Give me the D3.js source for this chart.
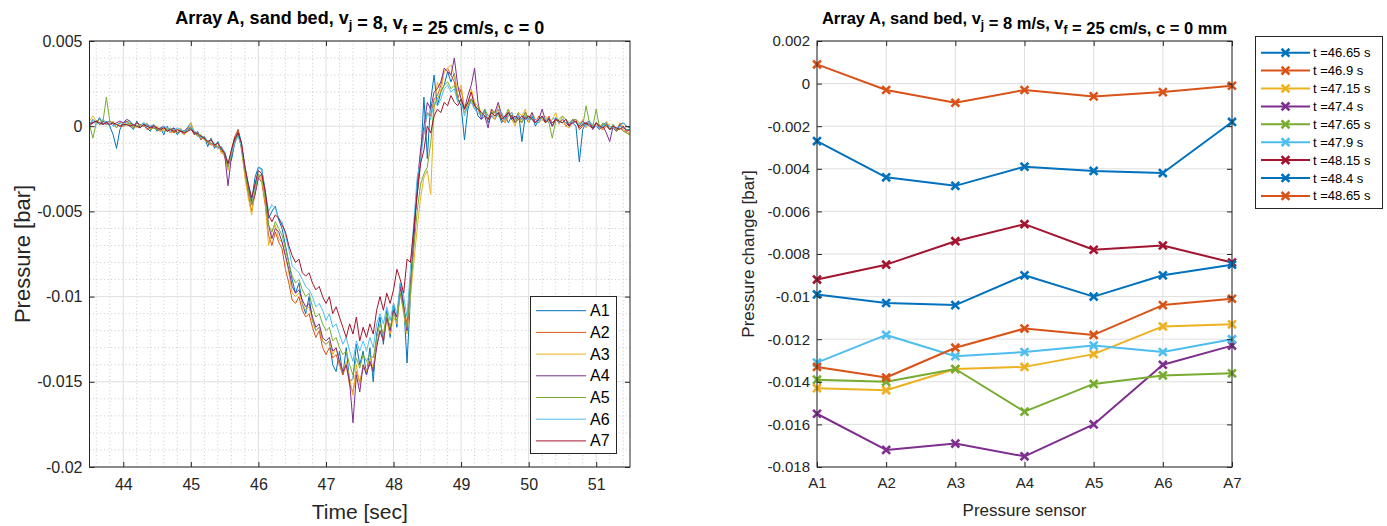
<!DOCTYPE html>
<html><head><meta charset="utf-8">
<script src="https://cdn.jsdelivr.net/npm/d3@7"></script>
<style>
body{margin:0;background:#fff}
svg{font-family:"Liberation Sans",Arial,Helvetica,sans-serif}
</style>
</head><body>
<svg id="chart" width="1387" height="526"></svg>
<script>
// ---------- LEFT CHART DATA: pressure [bar], sampled every 0.05 s from 43.5 s ----------
const sampleStart = 43.5, sampleStep = 0.05;
const A1 = [.0001,.0004,.0002,.0005,.0001,.0003,0,-.0005,-.0013,-.0002,
.0002,.0003,0,-.0002,.0003,-.0001,.0002,-.0001,-.0003,.0001,
-.0003,-.0001,-.0005,0,-.0004,-.0001,-.0005,-.0002,-.0003,-.0001,
.0002,-.0005,-.0003,-.0008,-.0006,-.0012,-.0007,-.0013,-.0009,-.0015,
-.0015,-.0022,-.002,-.001,-.0002,-.001,-.0024,-.0034,-.0044,-.003,
-.0024,-.0025,-.0038,-.0054,-.005,-.0047,-.0055,-.006,-.007,-.008,
-.009,-.0098,-.0092,-.0104,-.011,-.01,-.0114,-.012,-.0118,-.0126,
-.0128,-.0126,-.014,-.0144,-.0132,-.0146,-.013,-.015,-.0148,-.0128,
-.014,-.0132,-.0146,-.013,-.015,-.0122,-.0112,-.0128,-.0108,-.0124,
-.0104,-.0118,-.0092,-.0104,-.0139,-.01,-.0061,-.004,-.002,.0017,
-.0019,.0015,.003,.0012,.002,.0024,.0032,.0026,.0031,.0016,
.0012,-.0008,.001,.0016,.0014,.0006,.0004,.001,.0002,.0006,
.0004,.0008,.0002,.0006,.0002,.0006,.0004,.0008,-.0009,.0006,
.0002,.0006,0,.0004,.0006,.0002,.0005,0,.0004,.0003,
.0002,.0004,.0001,.0002,0,-.0021,-.0002,.0002,.0003,-.0001,
0,-.0002,.0001,.0002,-.0002,-.0001,-.0003,.0001,.0002,0,-.0001];
const A2 = [.0002,.0002,.0003,.0001,.0002,.0001,.0002,0,.0001,0,
0,.0003,.0001,-.0001,.0002,0,.0001,-.0002,-.0001,.0001,
-.0002,-.0003,0,-.0003,-.0002,-.0004,-.0002,-.0003,-.0005,-.0001,
-.0001,-.0005,-.0004,-.0008,-.0006,-.001,-.0011,-.0011,-.0012,-.0013,
-.0018,-.0024,-.0014,-.0006,-.0002,-.0014,-.0028,-.004,-.005,-.004,
-.003,-.0033,-.0046,-.0064,-.007,-.0062,-.0068,-.0072,-.0084,-.0092,
-.0102,-.0104,-.01,-.0108,-.0112,-.011,-.0118,-.0124,-.012,-.013,
-.0134,-.013,-.0136,-.0134,-.014,-.0146,-.014,-.0152,-.0156,-.0144,
-.015,-.0142,-.0144,-.014,-.0142,-.0128,-.012,-.0126,-.0112,-.0122,
-.0108,-.0112,-.0094,-.0106,-.0116,-.0092,-.0064,-.0036,-.0016,-.0004,
.0008,.0006,.0016,.0018,.0024,.0032,.0034,.003,.0026,.0016,
.0022,.001,.0014,.0016,.0012,.001,.0006,.0008,.0004,.0006,
.0008,.001,.0004,.0002,.0006,.0008,.0002,.0004,.0002,.0006,
.0006,.0004,.0002,.0006,.0004,.0002,.0006,0,.0004,.0002,
.0004,0,.0002,.0003,.0004,-.0002,0,.0002,.0001,-.0001,
.0002,-.0001,-.0002,0,-.0002,.0001,-.0003,-.0001,-.0002,-.0004,-.0005];
const A3 = [.0003,.0006,.0003,.0002,.0004,.0002,.0001,.0003,-.0001,.0002,
.0002,0,.0002,.0001,-.0001,.0001,0,.0002,-.0002,0,
0,-.0003,-.0002,-.0001,-.0004,-.0003,-.0002,-.0001,-.0005,-.0003,
.0002,-.0003,-.0006,-.0005,-.0008,-.0009,-.0008,-.0012,-.001,-.0016,
-.0016,-.0026,-.0015,-.001,-.0005,-.0012,-.003,-.0042,-.0052,-.0036,
-.0028,-.0032,-.0044,-.007,-.0062,-.0058,-.0066,-.0068,-.0076,-.0086,
-.0098,-.01,-.0098,-.0104,-.0108,-.0106,-.0114,-.012,-.0118,-.0126,
-.0128,-.0126,-.0134,-.013,-.0138,-.0144,-.0138,-.0148,-.0158,-.014,
-.0152,-.014,-.0144,-.0136,-.0142,-.0128,-.012,-.0126,-.0114,-.0122,
-.0112,-.0116,-.0098,-.011,-.0122,-.01,-.008,-.006,-.0042,-.003,
-.0026,-.004,.001,.0026,.002,.0032,.0034,.0036,.003,.002,
.0024,.001,.0012,.0022,.0014,.0012,.0008,.0006,.0004,.001,
.0004,.0012,.0008,.0002,.001,.0004,0,.0008,.0006,.001,
.0002,.0008,.0004,.0002,.0004,.0006,.0002,.0004,.0008,.0001,
.0006,0,-.0001,.0004,.0002,.0001,.0004,-.0001,.0002,.0001,
0,.0001,-.0002,.0003,0,-.0001,-.0002,.0002,0,-.0003,-.0004];
const A4 = [0,.0002,.0003,.0001,.0003,.0002,.0003,.0001,.0002,.0003,
.0002,.0004,.0003,0,.0002,.0001,0,.0001,0,-.0001,
-.0002,-.0001,0,-.0003,-.0002,-.0001,-.0004,-.0003,-.0003,-.0002,
-.0001,-.0004,-.0005,-.0006,-.0007,-.0009,-.001,-.0011,-.0013,-.0012,
-.0016,-.0035,-.0018,-.0008,-.0004,-.0012,-.0024,-.0036,-.0046,-.004,
-.003,-.0028,-.004,-.0058,-.0066,-.006,-.0062,-.0068,-.0076,-.0084,
-.0094,-.0098,-.0096,-.0102,-.0106,-.0104,-.0112,-.0118,-.0116,-.0124,
-.0126,-.0124,-.0132,-.013,-.0138,-.0144,-.014,-.015,-.0174,-.0146,
-.0156,-.014,-.0146,-.0138,-.0144,-.013,-.012,-.0126,-.0112,-.012,
-.0108,-.0112,-.0094,-.0106,-.012,-.0092,-.0068,-.0034,-.0014,0,
.0014,.001,.002,.0022,.0026,.0034,.0032,.003,.004,.0024,
.0016,.001,.0018,.0024,.0034,.0014,.0004,.0006,-.0001,.001,
.0008,.0014,.0006,.0004,.0008,.0006,.0002,.0006,.0004,.0008,
.0004,.0008,.0002,.0004,.001,.0003,.0004,0,.0005,.0002,
.0004,.0002,0,.0004,.0002,0,.0003,.0001,.0002,-.0002,
.0002,-.0001,0,-.0004,-.0009,0,-.0002,.0001,-.0001,-.0002,-.0002];
const A5 = [.0001,-.0007,.0002,.0004,.0003,.0017,.0003,.0002,-.0001,.0002,
0,.0001,.0002,-.0001,0,.0001,0,.0001,-.0002,-.0001,
-.0002,-.0001,-.0003,-.0002,-.0001,-.0003,-.0004,-.0002,-.0003,-.0003,
-.0001,-.0003,-.0006,-.0005,-.0008,-.0009,-.001,-.0011,-.0012,-.0013,
-.0016,-.0024,-.0017,-.0009,-.0005,-.0012,-.0026,-.0038,-.0046,-.0038,
-.0028,-.003,-.0042,-.0058,-.0062,-.0056,-.006,-.0064,-.0072,-.008,
-.0088,-.0092,-.009,-.0096,-.01,-.0098,-.0106,-.0112,-.011,-.0116,
-.012,-.0118,-.0126,-.0124,-.013,-.0134,-.0132,-.014,-.0146,-.0136,
-.0142,-.0134,-.0138,-.0134,-.0136,-.0124,-.0116,-.0122,-.011,-.0118,
-.011,-.0114,-.0098,-.0108,-.0118,-.0096,-.0072,-.005,-.0034,-.0028,
-.0024,-.001,.0012,.0016,.002,.0024,.0026,.0022,.0024,.0016,
.0014,.0008,.0012,.0016,.001,.0012,.0006,.001,.0006,.0008,
.0008,.0006,.0004,.0006,.001,.0004,.0002,.0006,.0002,.0008,
.0004,.0006,.0004,.0002,.0006,.0004,.0002,-.0007,.0003,.0004,
.0006,.0004,.0002,.0004,.0004,.0002,0,.0012,.0002,0,
.001,-.0001,.0002,0,-.0002,.0001,-.0002,-.0001,-.0003,-.0004,-.0005];
const A6 = [.0002,.0003,.0001,.0002,.0004,.0001,.0002,0,.0001,.0002,
0,.0002,.0003,.0001,0,-.0001,.0002,.0001,0,.0001,
-.0001,-.0002,0,-.0001,-.0003,-.0002,-.0001,-.0002,-.0003,-.0002,
0,-.0003,-.0004,-.0007,-.0006,-.0009,-.0008,-.001,-.0012,-.0012,
-.0015,-.0022,-.0016,-.001,-.0006,-.0012,-.0024,-.0034,-.0042,-.0036,
-.0024,-.0026,-.0038,-.005,-.0046,-.0048,-.0054,-.0056,-.0064,-.0072,
-.0082,-.0084,-.0086,-.009,-.0094,-.0096,-.01,-.0106,-.0104,-.0108,
-.0114,-.011,-.0118,-.0116,-.0122,-.0128,-.0124,-.0132,-.0138,-.0126,
-.0132,-.0126,-.0132,-.0124,-.013,-.0116,-.011,-.0116,-.0106,-.0114,
-.0104,-.011,-.0092,-.01,-.0112,-.0084,-.0056,-.003,-.002,-.0004,
.0008,.0004,.0014,.0012,.0016,.0022,.0024,.002,.0022,.0014,
.0016,.0006,.0012,.0014,.001,.0008,.0006,.0008,.0004,.0008,
.0006,.001,.0008,.0004,.0006,.0008,.0004,.0006,.0004,.0006,
.0004,.0006,.0004,.0002,.0006,.0004,.0002,.0004,.0005,.0002,
.0004,.0002,.0002,.0003,.0002,.0001,.0002,0,.0002,.0001,
0,-.0001,0,.0001,0,-.0001,-.0001,0,-.0001,-.0002,-.0002];
const A7 = [.0001,.0002,.0003,.0002,.0001,.0002,.0001,.0002,.0001,0,
.0001,.0001,0,.0001,0,-.0001,.0001,0,-.0001,0,
-.0001,-.0002,-.0001,-.0003,-.0002,-.0003,-.0002,-.0003,-.0004,-.0003,
-.0002,-.0004,-.0004,-.0006,-.0007,-.0009,-.0008,-.0011,-.001,-.0013,
-.0016,-.0022,-.0014,-.0007,-.0004,-.001,-.0024,-.0034,-.0042,-.0034,
-.0026,-.0028,-.0038,-.0052,-.0056,-.0052,-.0054,-.0058,-.0062,-.007,
-.0076,-.008,-.0078,-.0086,-.0088,-.0086,-.0092,-.0096,-.0094,-.01,
-.0104,-.01,-.011,-.0106,-.0112,-.0118,-.0124,-.0116,-.0122,-.0112,
-.0126,-.0118,-.0124,-.0116,-.0122,-.0108,-.01,-.0108,-.0098,-.0104,
-.0096,-.0084,-.009,-.0098,-.0078,-.008,-.006,-.004,-.0022,-.0014,
0,-.0004,.0006,.001,.0008,.0014,.0012,.0018,.0014,.0012,
.0016,.001,.0014,.002,.0012,.001,.0008,.0006,.0004,.0008,
.0006,.0008,.0004,.0006,.0008,.0004,.0006,.0004,.0006,.0004,
.0006,.0004,.0002,.0004,.0006,.0002,.0004,.0002,.0004,.0003,
.0002,.0004,0,.0002,.0003,-.0001,.0001,.0002,0,-.0001,
.0002,0,-.0001,.0001,-.0002,0,-.0001,-.0002,0,-.0003,-.0002];
const leftSeriesNames = ["A1","A2","A3","A4","A5","A6","A7"];
const leftXTicks = [44,45,46,47,48,49,50,51];
const leftYTicks = [0.005,0,-0.005,-0.01,-0.015,-0.02];
const leftYTickLabels = ["0.005","0","-0.005","-0.01","-0.015","-0.02"];

// ---------- RIGHT CHART DATA: pressure change [bar] per sensor ----------
const sensors = ["A1","A2","A3","A4","A5","A6","A7"];
const snapshotLabels = ["t =46.65 s","t =46.9 s","t =47.15 s","t =47.4 s","t =47.65 s","t =47.9 s","t =48.15 s","t =48.4 s","t =48.65 s"];
const p4665 = [-0.0027,-0.0044,-0.0048,-0.0039,-0.0041,-0.0042,-0.0018];
const p4690 = [0.0009,-0.0003,-0.0009,-0.0003,-0.0006,-0.0004,-0.0001];
const p4715 = [-0.0143,-0.0144,-0.0134,-0.0133,-0.0127,-0.0114,-0.0113];
const p4740 = [-0.0155,-0.0172,-0.0169,-0.0175,-0.0160,-0.0132,-0.0123];
const p4765 = [-0.0139,-0.0140,-0.0134,-0.0154,-0.0141,-0.0137,-0.0136];
const p4790 = [-0.0131,-0.0118,-0.0128,-0.0126,-0.0123,-0.0126,-0.0120];
const p4815 = [-0.0092,-0.0085,-0.0074,-0.0066,-0.0078,-0.0076,-0.0084];
const p4840 = [-0.0099,-0.0103,-0.0104,-0.0090,-0.0100,-0.0090,-0.0085];
const p4865 = [-0.0133,-0.0138,-0.0124,-0.0115,-0.0118,-0.0104,-0.0101];
const rightYTicks = [0.002,0,-0.002,-0.004,-0.006,-0.008,-0.01,-0.012,-0.014,-0.016,-0.018];
const rightYTickLabels = ["0.002","0","-0.002","-0.004","-0.006","-0.008","-0.01","-0.012","-0.014","-0.016","-0.018"];

const palette = ["#0072BD","#D95319","#EDB120","#7E2F8E","#77AC30","#4DBEEE","#A2142F"];
const axisColor = "#262626";

const svg = d3.select("#chart");

function title(g, x, y, fs, parts){
  const t = g.append("text").attr("x", x).attr("y", y).attr("text-anchor","middle")
    .attr("font-weight","bold").attr("font-size", fs).attr("fill", "#000");
  parts.forEach(p => {
    if (p.sub) {
      t.append("tspan").attr("dy", 5).attr("font-size", fs*0.72).text(p.sub);
      t.append("tspan").attr("dy", -5).text("");
    } else t.append("tspan").text(p.t);
  });
}
function styleAxis(sel, fs){
  sel.select(".domain").remove();
  sel.selectAll(".tick line").attr("stroke", axisColor);
  sel.selectAll(".tick text").attr("fill", axisColor).attr("font-size", fs)
    .attr("font-family", '"Liberation Sans",Arial,sans-serif');
}

// ================= LEFT CHART =================
{
  const X0 = 89.5, X1 = 630, Y0 = 41, Y1 = 467;
  const x = d3.scaleLinear().domain([43.5, 51.5]).range([X0, X1]);
  const y = d3.scaleLinear().domain([-0.02, 0.005]).range([Y1, Y0]);
  const g = svg.append("g");
  g.append("rect").attr("x",X0).attr("y",Y0).attr("width",X1-X0).attr("height",Y1-Y0).attr("fill","#fff");

  // minor grid
  const minorX = d3.range(0, 40).map(i => 43.6 + i*0.2).filter(v => v < 51.5 && Math.abs(v - Math.round(v)) > 1e-6);
  const minorY = d3.range(0, 25).map(i => 0.004 - i*0.001).filter(v => Math.abs(v/0.005 - Math.round(v/0.005)) > 1e-6);
  g.selectAll(".mgx").data(minorX).join("line")
    .attr("x1", d => x(d)).attr("x2", d => x(d)).attr("y1", Y0).attr("y2", Y1)
    .attr("stroke","#bdbdbd").attr("stroke-width",0.8).attr("stroke-dasharray","1,2.6");
  g.selectAll(".mgy").data(minorY).join("line")
    .attr("y1", d => y(d)).attr("y2", d => y(d)).attr("x1", X0).attr("x2", X1)
    .attr("stroke","#bdbdbd").attr("stroke-width",0.8).attr("stroke-dasharray","1,2.6");
  // major grid
  g.selectAll(".gx").data(leftXTicks).join("line")
    .attr("x1", d => x(d)).attr("x2", d => x(d)).attr("y1", Y0).attr("y2", Y1)
    .attr("stroke","#dfdfdf").attr("stroke-width",1);
  g.selectAll(".gy").data(leftYTicks).join("line")
    .attr("y1", d => y(d)).attr("y2", d => y(d)).attr("x1", X0).attr("x2", X1)
    .attr("stroke","#dfdfdf").attr("stroke-width",1);

  // lines
  svg.append("clipPath").attr("id","clipL").append("rect")
    .attr("x",X0).attr("y",Y0).attr("width",X1-X0).attr("height",Y1-Y0);
  const series = [A1,A2,A3,A4,A5,A6,A7];
  const line = d3.line().x((d,i) => x(sampleStart + i*sampleStep)).y(d => y(d));
  g.append("g").attr("clip-path","url(#clipL)").selectAll("path").data(series).join("path")
    .attr("d", line).attr("fill","none").attr("stroke",(d,i) => palette[i])
    .attr("stroke-width",1).attr("stroke-linejoin","round");

  // axes
  const ax = g.append("g").attr("transform",`translate(0,${Y1})`)
    .call(d3.axisBottom(x).tickValues(leftXTicks).tickSizeInner(-5).tickSizeOuter(0).tickPadding(12).tickFormat(d3.format("d")));
  styleAxis(ax, 16);
  const axT = g.append("g").attr("transform",`translate(0,${Y0})`)
    .call(d3.axisTop(x).tickValues(leftXTicks).tickSizeInner(-5).tickSizeOuter(0).tickFormat(""));
  styleAxis(axT, 16);
  const ay = g.append("g").attr("transform",`translate(${X0},0)`)
    .call(d3.axisLeft(y).tickValues(leftYTicks).tickSizeInner(-5).tickSizeOuter(0).tickPadding(7).tickFormat((d,i) => leftYTickLabels[i]));
  styleAxis(ay, 16);
  const ayR = g.append("g").attr("transform",`translate(${X1},0)`)
    .call(d3.axisRight(y).tickValues(leftYTicks).tickSizeInner(-5).tickSizeOuter(0).tickFormat(""));
  styleAxis(ayR, 16);
  g.append("rect").attr("x",X0).attr("y",Y0).attr("width",X1-X0).attr("height",Y1-Y0)
    .attr("fill","none").attr("stroke",axisColor).attr("stroke-width",1);

  // labels
  title(g, (X0+X1)/2, 24, 18, [{t:"Array A, sand bed, v"},{sub:"j"},{t:" = 8, v"},{sub:"f"},{t:" = 25 cm/s, c = 0"}]);
  g.append("text").attr("x",(X0+X1)/2).attr("y",519).attr("text-anchor","middle")
    .attr("font-size",21).attr("fill",axisColor).text("Time [sec]");
  g.append("text").attr("transform",`translate(30,${(Y0+Y1)/2}) rotate(-90)`).attr("text-anchor","middle")
    .attr("font-size",22).attr("fill",axisColor).text("Pressure [bar]");

  // legend
  const lg = g.append("g");
  lg.append("rect").attr("x",530.5).attr("y",296.5).attr("width",86).attr("height",157)
    .attr("fill","#fff").attr("stroke",axisColor).attr("stroke-width",1);
  leftSeriesNames.forEach((n,i) => {
    const yy = 310.7 + i*21.7;
    lg.append("line").attr("x1",536).attr("x2",586).attr("y1",yy).attr("y2",yy)
      .attr("stroke",palette[i]).attr("stroke-width",1);
    lg.append("text").attr("x",590).attr("y",yy+5.5).attr("font-size",16).attr("fill","#000").text(n);
  });
}

// ================= RIGHT CHART =================
{
  const X0 = 817, X1 = 1232, Y0 = 41, Y1 = 467;
  const x = d3.scalePoint().domain(sensors).range([X0, X1]);
  const y = d3.scaleLinear().domain([-0.018, 0.002]).range([Y1, Y0]);
  const g = svg.append("g");
  g.append("rect").attr("x",X0).attr("y",Y0).attr("width",X1-X0).attr("height",Y1-Y0).attr("fill","#fff");
  g.selectAll(".gx").data(sensors).join("line")
    .attr("x1", d => x(d)).attr("x2", d => x(d)).attr("y1", Y0).attr("y2", Y1)
    .attr("stroke","#dfdfdf").attr("stroke-width",1);
  g.selectAll(".gy").data(rightYTicks).join("line")
    .attr("y1", d => y(d)).attr("y2", d => y(d)).attr("x1", X0).attr("x2", X1)
    .attr("stroke","#dfdfdf").attr("stroke-width",1);

  const series = [p4665,p4690,p4715,p4740,p4765,p4790,p4815,p4840,p4865];
  const colorOf = i => palette[i % palette.length];
  const line = d3.line().x((d,i) => x(sensors[i])).y(d => y(d));
  const xMark = d3.symbol().type(d3.symbolX).size(42);
  series.forEach((s,k) => {
    g.append("path").attr("d", line(s)).attr("fill","none").attr("stroke",colorOf(k))
      .attr("stroke-width",2).attr("stroke-linejoin","round");
    g.selectAll(null).data(s).join("path")
      .attr("transform",(d,i) => `translate(${x(sensors[i])},${y(d)})`)
      .attr("d", xMark).attr("fill","none").attr("stroke",colorOf(k)).attr("stroke-width",2.6);
  });

  const ax = g.append("g").attr("transform",`translate(0,${Y1})`)
    .call(d3.axisBottom(x).tickSizeInner(-5).tickSizeOuter(0).tickPadding(10));
  styleAxis(ax, 15);
  const axT = g.append("g").attr("transform",`translate(0,${Y0})`)
    .call(d3.axisTop(x).tickSizeInner(-5).tickSizeOuter(0).tickFormat(""));
  styleAxis(axT, 15);
  const ay = g.append("g").attr("transform",`translate(${X0},0)`)
    .call(d3.axisLeft(y).tickValues(rightYTicks).tickSizeInner(-5).tickSizeOuter(0).tickPadding(7).tickFormat((d,i) => rightYTickLabels[i]));
  styleAxis(ay, 15);
  const ayR = g.append("g").attr("transform",`translate(${X1},0)`)
    .call(d3.axisRight(y).tickValues(rightYTicks).tickSizeInner(-5).tickSizeOuter(0).tickFormat(""));
  styleAxis(ayR, 15);
  g.append("rect").attr("x",X0).attr("y",Y0).attr("width",X1-X0).attr("height",Y1-Y0)
    .attr("fill","none").attr("stroke",axisColor).attr("stroke-width",1);

  title(g, (X0+X1)/2, 24, 16.5, [{t:"Array A, sand bed, v"},{sub:"j"},{t:" = 8 m/s, v"},{sub:"f"},{t:" = 25 cm/s, c = 0 mm"}]);
  g.append("text").attr("x",(X0+X1)/2).attr("y",516).attr("text-anchor","middle")
    .attr("font-size",17).attr("fill",axisColor).text("Pressure sensor");
  g.append("text").attr("transform",`translate(754,${(Y0+Y1)/2}) rotate(-90)`).attr("text-anchor","middle")
    .attr("font-size",17).attr("fill",axisColor).text("Pressure change [bar]");

  const lg = g.append("g");
  lg.append("rect").attr("x",1255.5).attr("y",36.5).attr("width",127).attr("height",172)
    .attr("fill","#fff").attr("stroke",axisColor).attr("stroke-width",1);
  snapshotLabels.forEach((n,k) => {
    const yy = 52.7 + k*17.9;
    lg.append("line").attr("x1",1261).attr("x2",1310).attr("y1",yy).attr("y2",yy)
      .attr("stroke",colorOf(k)).attr("stroke-width",2);
    lg.append("path").attr("transform",`translate(1285.5,${yy})`).attr("d",xMark)
      .attr("fill","none").attr("stroke",colorOf(k)).attr("stroke-width",2.6);
    lg.append("text").attr("x",1313).attr("y",yy+4.5).attr("font-size",13).attr("fill","#000").text(n);
  });
}
</script>
</body></html>
